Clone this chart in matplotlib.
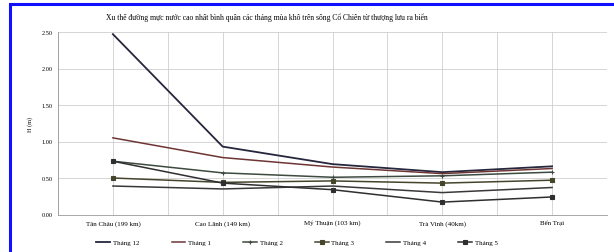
import matplotlib
matplotlib.use("Agg")
import matplotlib.pyplot as plt
from matplotlib.patches import Rectangle

stations = ["Tân Châu (199 km)", "Cao Lãnh (149 km)", "Mỹ Thuận (103 km)", "Trà Vinh (40km)", "Bến Trại"]
thang12 = [2.47, 0.93, 0.69, 0.58, 0.66]
thang1 = [1.05, 0.78, 0.65, 0.56, 0.63]
thang2 = [0.73, 0.57, 0.51, 0.53, 0.58]
thang3 = [0.50, 0.44, 0.46, 0.43, 0.47]
thang4 = [0.39, 0.35, 0.39, 0.30, 0.37]
thang5 = [0.73, 0.43, 0.34, 0.17, 0.24]
series_names = ["Tháng 12", "Tháng 1", "Tháng 2", "Tháng 3", "Tháng 4", "Tháng 5"]
yticks = [0.0, 0.5, 1.0, 1.5, 2.0, 2.5]

plt.rcParams['font.family'] = ['Liberation Serif', 'DejaVu Serif']

fig = plt.figure(figsize=(6.14, 2.53), dpi=100)
ax = fig.add_axes([58/614, 1-215.5/253, (607-58)/614, (215.5-33)/253])

# blue frame
fig.patches.append(Rectangle((10/614, -0.05), 1.1, 1-5/253+0.05, transform=fig.transFigure,
                             fill=False, edgecolor='#1010ff', linewidth=2.2))

x = list(range(len(stations)))
data = [thang12, thang1, thang2, thang3, thang4, thang5]
colors = ['#26263d', '#6e3535', '#3d4a40', '#45452c', '#3c3838', '#2f2f2f']
markers = [None, None, '+', 's', None, 's']
widths = [1.3, 1.1, 1.1, 1.1, 1.1, 1.1]
for vals, name, c, m, w in zip(data, series_names, colors, markers, widths):
    ax.plot(x, vals, color=c, linewidth=w, marker=m, markersize=2.5,
            markeredgewidth=0.8, label=name)

ax.set_xlim(-0.5, len(stations) - 0.5)
ax.set_ylim(0, 2.5)
ax.set_yticks(yticks)
ax.set_yticklabels([f"{v:.2f}" for v in yticks], fontsize=4.5)
ax.set_xticks(x)
ax.set_xticklabels(stations, fontsize=5)
ax.tick_params(axis='both', length=0, pad=4)
for v in [i - 0.5 for i in range(len(stations) + 1)] + x:
    ax.axvline(v, color='#cfcfcf', linewidth=0.6, zorder=0)
ax.yaxis.grid(True, color='#cfcfcf', linewidth=0.6)
ax.set_axisbelow(True)
for s in ['top', 'right']:
    ax.spines[s].set_visible(False)
for s in ['left', 'bottom']:
    ax.spines[s].set_color('#999999')
    ax.spines[s].set_linewidth(0.6)
ax.set_ylabel("H (m)", fontsize=4.5, labelpad=6)

fig.text(267/614, 1-18/253, "Xu thế đường mực nước cao nhất bình quân các tháng mùa khô trên sông Cổ Chiên từ thượng lưu ra biển",
         ha='center', va='center', fontsize=5.5)

fig.legend(loc='center', bbox_to_anchor=(297/614, 1-243/253), ncol=6, fontsize=5,
           frameon=False, handlelength=2, columnspacing=4.6, handletextpad=0.4)

fig.savefig("out.png", dpi=100)
